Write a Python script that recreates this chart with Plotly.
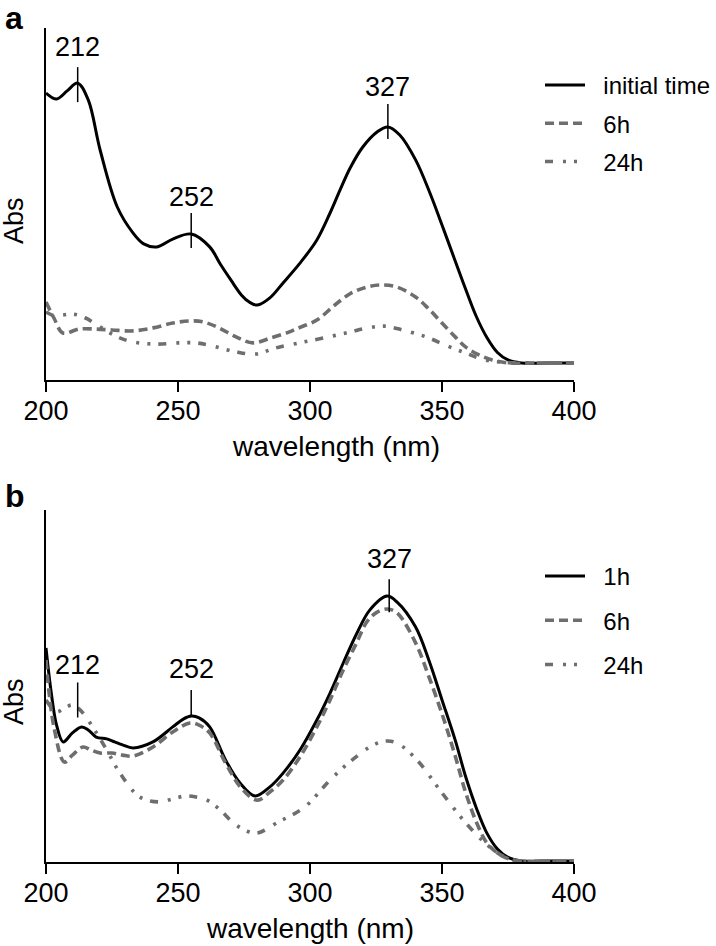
import numpy as np
import plotly.graph_objects as go

# ---------------- data (panel a) ----------------
a_init_nm = [200, 204, 208, 212, 216, 220.5, 227, 233, 237, 242, 248, 255, 262, 266, 270, 274,
             277, 280, 284.8, 289.8, 296.2, 302.6, 307.6, 311.4, 315.2, 320, 325.4, 329.5, 334, 340,
             345.5, 350, 355, 359, 363, 367, 371, 375, 380, 390, 400]
a_init_abs = [0.900, 0.880, 0.907, 0.933, 0.877, 0.710, 0.520, 0.433, 0.397, 0.387, 0.413, 0.430,
              0.387, 0.330, 0.277, 0.227, 0.203, 0.193, 0.217, 0.267, 0.333, 0.410, 0.500, 0.577,
              0.650, 0.720, 0.770, 0.787, 0.760, 0.677, 0.565, 0.460, 0.340, 0.245, 0.155, 0.085,
              0.035, 0.010, 0.0, 0.0, 0.0]

a_6h_nm = [200, 203, 206.4, 212.5, 219, 225, 233, 240.5, 248, 254, 259.5, 265.5, 272, 278.4, 285,
           292, 296, 302.6, 309, 315, 321, 326.5, 333, 340, 345, 350, 355, 359, 364, 369, 375, 385, 400]
a_6h_abs = [0.203, 0.150, 0.100, 0.113, 0.113, 0.110, 0.107, 0.117, 0.133, 0.140, 0.137, 0.117,
            0.087, 0.067, 0.083, 0.103, 0.118, 0.143, 0.190, 0.230, 0.252, 0.260, 0.253, 0.220,
            0.180, 0.133, 0.087, 0.053, 0.027, 0.010, 0.0, 0.0, 0.0]

a_24h_nm = [200, 203, 206.4, 210.2, 215, 220, 227, 233, 241.7, 250, 256.8, 263, 272, 279.5, 287,
            296, 305, 315, 322, 328, 335, 344, 352, 359, 365, 372, 380, 390, 400]
a_24h_abs = [0.170, 0.158, 0.160, 0.163, 0.150, 0.123, 0.087, 0.070, 0.063, 0.067, 0.067, 0.057,
             0.037, 0.030, 0.050, 0.067, 0.083, 0.103, 0.117, 0.123, 0.110, 0.087, 0.057, 0.033,
             0.013, 0.003, 0.0, 0.0, 0.0]

# ---------------- data (panel b) ----------------
b_1h_nm = [200, 202, 204, 206.5, 210, 213.5, 216, 219, 223, 226, 229, 233, 240.5, 248, 252, 255,
           258, 262, 268, 273.5, 279.2, 284.8, 289.8, 296.2, 302.6, 307.6, 312.6, 317.8, 322.7,
           329.2, 333, 340, 345, 350, 355, 359, 363, 367, 371, 375, 380, 390, 400]
b_1h_abs = [0.710, 0.560, 0.453, 0.397, 0.427, 0.447, 0.437, 0.413, 0.407, 0.397, 0.387, 0.377,
            0.397, 0.447, 0.473, 0.483, 0.477, 0.447, 0.337, 0.260, 0.217, 0.247, 0.293, 0.370,
            0.470, 0.560, 0.660, 0.760, 0.837, 0.883, 0.863, 0.780, 0.670, 0.537, 0.403, 0.280,
            0.177, 0.093, 0.040, 0.012, 0.0, 0.0, 0.0]

b_6h_nm = [200, 203, 207, 210, 214, 217, 220.5, 225, 229, 233, 240.5, 248, 254.5, 258, 262, 268,
           274, 280, 284.8, 289.8, 296.2, 302.6, 307.6, 312.6, 317.8, 321.5, 325, 329.2, 333, 340,
           345, 350.4, 355, 359, 363, 367, 371, 375, 380, 390, 400]
b_6h_abs = [0.670, 0.447, 0.330, 0.353, 0.380, 0.370, 0.360, 0.360, 0.353, 0.350, 0.380, 0.430,
            0.460, 0.453, 0.427, 0.327, 0.243, 0.203, 0.230, 0.270, 0.347, 0.447, 0.537, 0.637,
            0.730, 0.797, 0.827, 0.840, 0.827, 0.727, 0.615, 0.480, 0.350, 0.227, 0.130, 0.060,
            0.027, 0.008, 0.0, 0.0, 0.0]

b_24h_nm = [200, 204, 207, 210, 213, 216.7, 223, 228, 235.6, 243, 248, 253, 257, 261, 266, 271,
            276, 280, 288, 298, 307.6, 316, 324, 328.8, 333, 340.5, 350, 359, 368, 375, 380, 390, 400]
b_24h_abs = [0.537, 0.497, 0.510, 0.520, 0.503, 0.460, 0.370, 0.293, 0.213, 0.197, 0.207, 0.217,
             0.213, 0.203, 0.170, 0.127, 0.100, 0.093, 0.130, 0.180, 0.270, 0.337, 0.387, 0.400,
             0.393, 0.337, 0.227, 0.127, 0.047, 0.008, 0.0, 0.0, 0.0]

legend_a = ["initial time", "6h", "24h"]
legend_b = ["1h", "6h", "24h"]

peaks_nm_a = [212, 255, 329.5]
peaks_nm_b = [212, 255, 330]
peak_labels = ["212", "252", "327"]

x_ticks = [200, 250, 300, 350, 400]
x_title = "wavelength (nm)"
y_title = "Abs"

# ---------------- styling ----------------
W, H = 716, 946
FONT = "Liberation Sans, Arial, sans-serif"
GRAY = "#6e6e6e"
DASH6 = "9px,5px"
DASH24 = "8px,10px,3px,8px,3px,8px"
GAP = "&nbsp;&nbsp;"

def py(v):
    return 1 - v / H

fig = go.Figure()

styles = [
    dict(color="black", width=3, dash="solid"),
    dict(color=GRAY, width=3.6, dash=DASH6),
    dict(color=GRAY, width=3.6, dash=DASH24),
]

panel_a = [(a_init_nm, a_init_abs), (a_6h_nm, a_6h_abs), (a_24h_nm, a_24h_abs)]
panel_b = [(b_1h_nm, b_1h_abs), (b_6h_nm, b_6h_abs), (b_24h_nm, b_24h_abs)]

for i, ((xs, ys), name) in enumerate(zip(panel_a, legend_a)):
    fig.add_trace(go.Scatter(x=xs, y=ys, mode="lines", name=GAP + name,
                             line=dict(shape="spline", smoothing=1.0, **styles[i]),
                             xaxis="x", yaxis="y", legend="legend", legendgroup="a%d" % i))
for i, ((xs, ys), name) in enumerate(zip(panel_b, legend_b)):
    fig.add_trace(go.Scatter(x=xs, y=ys, mode="lines", name=GAP + name,
                             line=dict(shape="spline", smoothing=1.0, **styles[i]),
                             xaxis="x2", yaxis="y2", legend="legend2", legendgroup="b%d" % i))

# peak markers: (up px, down px, text px above curve)
mk_a = [(16, 19, 36), (21, 14, 37), (23, 12, 40)]
mk_b = [(47, -12, 64), (26, 1, 47), (18, 15, 38)]

shapes, annos = [], []
for peaks, ref_series, mk, xr, yr in [(peaks_nm_a, panel_a[0], mk_a, "x", "y"),
                                      (peaks_nm_b, panel_b[0], mk_b, "x2", "y2")]:
    for p, lab, (up, dn, tx) in zip(peaks, peak_labels, mk):
        yv = float(np.interp(p, ref_series[0], ref_series[1]))
        shapes.append(dict(type="line", xref=xr, yref=yr, x0=p, x1=p, ysizemode="pixel", yanchor=yv,
                           y0=-dn, y1=up, line=dict(color="black", width=1.5)))
        annos.append(dict(x=p, y=yv, xref=xr, yref=yr, text=lab, showarrow=False, yshift=tx,
                          font=dict(size=27, color="black", family=FONT), xanchor="center", yanchor="middle"))

annos.append(dict(x=3 / W, y=py(-2), xref="paper", yref="paper", text="<b>a</b>", showarrow=False,
                  xanchor="left", yanchor="top", font=dict(size=32, color="black", family=FONT)))
annos.append(dict(x=3 / W, y=py(476), xref="paper", yref="paper", text="<b>b</b>", showarrow=False,
                  xanchor="left", yanchor="top", font=dict(size=32, color="black", family=FONT)))
# y-axis titles ("Abs"), placed slightly below the axis mid-height as in the original
for yc in (221, 702):
    annos.append(dict(x=14 / W, y=py(yc), xref="paper", yref="paper", text=y_title, showarrow=False,
                      textangle=-90, xanchor="center", yanchor="middle",
                      font=dict(size=27, color="black", family=FONT)))
# x-axis titles
for xc, yc in ((336, 446), (310, 928)):
    annos.append(dict(x=xc / W, y=py(yc), xref="paper", yref="paper", text=x_title, showarrow=False,
                      xanchor="center", yanchor="middle", font=dict(size=28, color="black", family=FONT)))

xd = [46 / W, 574 / W]
axis_common_x = dict(range=[200, 400], tickvals=x_ticks, ticks="outside", ticklen=10, tickwidth=1.5,
                     tickcolor="black", showline=True, linecolor="black", linewidth=1.5, showgrid=False,
                     zeroline=False, tickfont=dict(size=27, color="black", family=FONT), automargin=False,
                     ticklabelstandoff=-4)
axis_common_y = dict(showline=True, linecolor="black", linewidth=1.5, showgrid=False, zeroline=False,
                     showticklabels=False, ticks="", automargin=False)

fig.update_layout(
    width=W, height=H, margin=dict(l=0, r=0, t=0, b=0, pad=0, autoexpand=False),
    paper_bgcolor="white", plot_bgcolor="white",
    font=dict(family=FONT, color="black"),
    xaxis=dict(domain=xd, anchor="y", **axis_common_x),
    yaxis=dict(domain=[py(380), py(28)], anchor="x", range=[-0.0567, 1.1167], **axis_common_y),
    xaxis2=dict(domain=xd, anchor="y2", **axis_common_x),
    yaxis2=dict(domain=[py(862), py(510)], anchor="x2", range=[-0.0033, 1.17], **axis_common_y),
    legend=dict(x=540 / W, y=py(63), xanchor="left", yanchor="top", font=dict(size=24, color="black", family=FONT),
                bgcolor="rgba(0,0,0,0)", tracegroupgap=4, itemwidth=40),
    legend2=dict(x=540 / W, y=py(554), xanchor="left", yanchor="top", font=dict(size=24, color="black", family=FONT),
                 bgcolor="rgba(0,0,0,0)", tracegroupgap=10, itemwidth=40),
    shapes=shapes, annotations=annos, showlegend=True,
)

fig.write_html("out.html", config={"displayModeBar": False},
               post_script="document.body.style.margin='0';document.body.style.padding='0';")
